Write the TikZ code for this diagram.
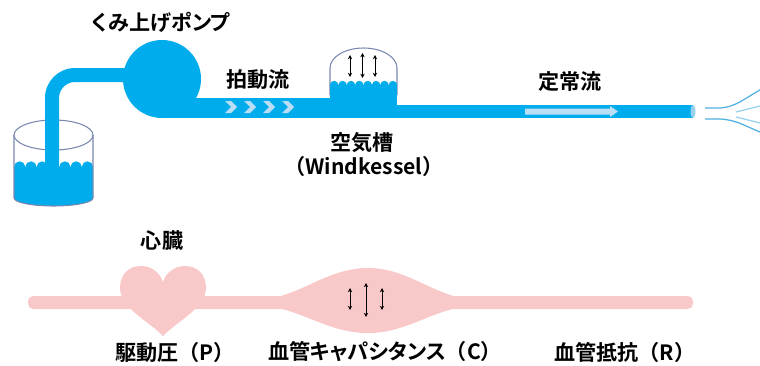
\documentclass[tikz,border=0pt]{standalone}
\usepackage{fontspec}
\setmainfont{Noto Sans CJK JP}[BoldFont={Noto Sans CJK JP Bold}, RawFeature=+palt]
\newfontfamily\fullwidth{Noto Sans CJK JP}[BoldFont={Noto Sans CJK JP Bold}]
\newcommand\zkl{{\fullwidth （}}
\newcommand\zkr{{\fullwidth ）}}
\usetikzlibrary{arrows.meta}

\definecolor{pipeblue}{RGB}{0,172,236}
\definecolor{lightblue}{RGB}{186,222,244}
\definecolor{rim}{RGB}{120,135,175}
\definecolor{flesh}{RGB}{249,200,200}
\definecolor{spray}{RGB}{80,175,225}
\definecolor{spraylight}{RGB}{150,210,240}

\tikzset{
  lbl/.style={font=\fontsize{12}{14}\selectfont\bfseries, inner sep=0pt},
  glass/.style={draw=rim, line width=0.6pt},
  dblarrow/.style={{Stealth[length=2.4pt,width=2.4pt]}-{Stealth[length=2.4pt,width=2.4pt]}, line width=0.5pt},
  jet/.style={draw=spray, line width=0.7pt},
  jetlight/.style={draw=spraylight, line width=0.7pt},
}

\begin{document}
\begin{tikzpicture}[x=0.02cm,y=-0.02cm]
\useasboundingbox (0,0) rectangle (760,365);

% ---------- hydraulic model ----------
% beaker rim
\draw[glass] (53.5,135) ellipse (39.5 and 15);
% water in the beaker
\fill[pipeblue] (14,167) -- (14,198) .. controls (14,202.4) and (31.7,206) .. (53.5,206)
  .. controls (75.3,206) and (93,202.4) .. (93,198) -- (93,167) -- cycle;
\foreach \i in {0,...,6}
  \fill[pipeblue] (19.65+11.3*\i,167) circle (5.65);
% beaker walls
\draw[glass] (14,135) -- (14,198) .. controls (14,202.4) and (31.7,206) .. (53.5,206)
  .. controls (75.3,206) and (93,202.4) .. (93,198) -- (93,135);
% suction pipe
\fill[pipeblue] (45,190) -- (45,98) .. controls (45,81.4) and (58.4,68) .. (75,68)
  -- (140,68) -- (140,82) -- (75,82) .. controls (66.2,82) and (59,89.2) .. (59,98)
  -- (59,190) -- cycle;
% pump
\fill[pipeblue] (162,79) circle (39);
% pulsatile outlet pipe
\fill[pipeblue] (162,98) rectangle (331,118);
\foreach \x in {225,244,263,282}
  \fill[lightblue] (\x,101) -- (\x+6,101) -- (\x+12,107) -- (\x+6,113) -- (\x,113) -- (\x+6,107) -- cycle;

% air chamber
\draw[glass] (330,95) -- (330,68) .. controls (330,57) and (345,48) .. (363.5,48)
  .. controls (382,48) and (397,57) .. (397,68) -- (397,95);
\fill[pipeblue] (330,85) rectangle (397,118);
\foreach \i in {0,...,7}
  \fill[pipeblue] (334.2+8.375*\i,85) circle (4.19);
\draw[dblarrow] (350,55) -- (350,77);
\draw[dblarrow] (362.5,53) -- (362.5,78);
\draw[dblarrow] (375,55) -- (375,77);

% steady outlet pipe
\fill[pipeblue] (396,105) rectangle (693,118);
\fill[spraylight] (693,111.5) ellipse (2.5 and 6.5);
\fill[lightblue] (525,108.5) -- (610,108.5) -- (610,106) -- (618,111.5) -- (610,117)
  -- (610,114.5) -- (525,114.5) -- cycle;

% jet leaving the pipe
\draw[jet] (705,108) -- (718,108) .. controls (735,108) and (745,98) .. (760,90);
\draw[jet] (705,119) -- (718,119) .. controls (735,119) and (745,126) .. (760,132);
\draw[jetlight] (736,112) -- (760,106);
\draw[jetlight] (736,117) -- (760,123);

% ---------- circulatory model ----------
\fill[flesh, rounded corners=3pt] (28,296) rectangle (693,309);
% heart
\fill[flesh] (163,336) .. controls (150,322) and (120,308) .. (120,288)
  .. controls (120,274) and (129,266) .. (141,266)
  .. controls (152,266) and (160,273) .. (163,282)
  .. controls (166,273) and (174,266) .. (185,266)
  .. controls (197,266) and (206,274) .. (206,288)
  .. controls (206,308) and (176,322) .. (163,336) -- cycle;
% compliant vessel
\fill[flesh] (272,298) .. controls (305,292) and (330,268) .. (368,268)
  .. controls (405,268) and (430,292) .. (462,298)
  -- (462,307) .. controls (430,312) and (405,333) .. (368,333)
  .. controls (330,333) and (305,312) .. (272,307) -- cycle;
\draw[dblarrow] (350,288) -- (350,310);
\draw[dblarrow] (366,283) -- (366,317);
\draw[dblarrow] (382,288) -- (382,310);

% ---------- labels ----------
\node[lbl] (pump)   at (161,22)  {くみ上げポンプ};
\node[lbl] (pulse)  at (258,80)  {拍動流};
\node[lbl] (steady) at (570,82)  {定常流};
\node[lbl] (wk)     at (362,143) {空気槽};
\node[lbl] (wkname) at (364,166) {\zkl Windkessel\zkr};
\node[lbl] (heart)  at (162,241) {心臓};
\node[lbl] (P)      at (175,352) {駆動圧\zkl P\zkr};
\node[lbl] (C)      at (385,352) {血管キャパシタンス\zkl C\zkr};
\node[lbl] (R)      at (625,352) {血管抵抗\zkl R\zkr};
\end{tikzpicture}
\end{document}
